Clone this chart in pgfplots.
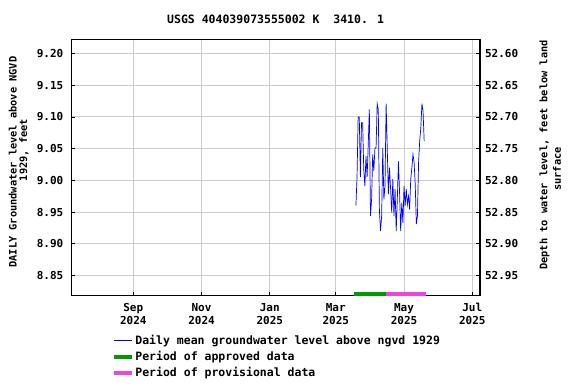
\documentclass[border=0pt]{standalone}
\usepackage{fontspec}
\setmainfont{DejaVu Sans Mono}
\usepackage{pgfplots}
\usepackage{pgfplotstable}
\pgfplotsset{compat=1.18}
\definecolor{grd}{RGB}{204,204,204}
\definecolor{appr}{RGB}{0,153,0}
\definecolor{prov}{RGB}{238,68,221}
\pgfplotstableread{
day val
199 8.960
200 9.006
201 9.100
202 9.100
203 9.005
204 9.091
205 9.091
206 9.017
207 8.991
208 9.038
209 9.005
210 9.056
211 9.112
212 8.944
213 8.970
214 9.041
215 9.015
216 9.051
217 9.051
218 9.121
219 9.112
220 8.952
221 8.920
222 8.944
223 9.051
224 8.970
225 8.991
226 9.121
227 9.051
228 8.978
229 9.020
230 8.986
231 8.949
232 9.002
233 8.944
234 8.986
235 8.920
236 8.970
237 9.030
238 8.981
239 8.920
240 8.965
241 8.933
242 8.991
243 8.960
244 8.986
245 8.962
246 8.975
247 8.954
248 9.002
249 9.020
250 9.041
251 9.028
252 8.994
253 8.931
254 8.944
255 9.028
256 9.062
257 9.083
258 9.121
259 9.109
260 9.062
}\gwdata
\tikzset{
  bigfont/.style={font=\bfseries\fontsize{11.5}{13.4}\selectfont},
  tickfont/.style={font=\bfseries\fontsize{11}{13.4}\selectfont},
  labfontL/.style={font=\bfseries\fontsize{10.3}{10.7}\selectfont},
  labfontR/.style={font=\bfseries\fontsize{10.3}{13.5}\selectfont},
}
\begin{document}
\begin{tikzpicture}[x=1pt,y=1pt]
\useasboundingbox (-71.3,-88.3) rectangle (504.7,295.7);
\begin{axis}[
  at={(0,0)}, anchor=south west,
  scale only axis, width=408.7pt, height=256.4pt,
  xmin=-55.4, xmax=309.9, ymin=8.818, ymax=9.2225,
  xtick={0,61,122,181,242,303},
  xticklabels={{Sep\\2024},{Nov\\2024},{Jan\\2025},{Mar\\2025},{May\\2025},{Jul\\2025}},
  xticklabel style={align=center, tickfont, yshift=-4pt},
  ytick={8.85,8.90,8.95,9.00,9.05,9.10,9.15,9.20},
  ytick pos=left,
  xtick pos=bottom,
  yticklabel style={tickfont, xshift=-4.5pt, /pgf/number format/.cd, fixed, fixed zerofill, precision=2},
  /pgf/number format/assume math mode=true,
  grid=major, major grid style={grd, line width=1pt},
  tick style={black, line width=0.8pt}, major tick length=4pt,
  axis line style={line width=1.2pt},
  title={USGS 404039073555002 K~~3410. 1},
  title style={bigfont, at={(0.5,1)}, anchor=base, yshift=9.5pt},
  ylabel={DAILY Groundwater level above NGVD\\\hspace*{24pt}1929, feet},
  ylabel style={labfontL, align=center, at={(axis description cs:-0.1287,0.521)}, anchor=center, rotate=0},
  legend style={at={(0.0988,-0.1455)}, anchor=north west, draw=none, fill=none, bigfont, row sep=2.6pt, inner sep=0pt, nodes={inner sep=1.5pt}},
  legend cell align=left,
  legend image code/.code={\draw[#1] (0pt,0pt) -- (18pt,0pt);},
  clip=false,
]
\addplot[blue, line width=0.7pt] table[x=day, y=val] {\gwdata};
\addlegendentry{Daily mean groundwater level above ngvd 1929}
\addplot[appr, line width=4pt] coordinates {(197.3,8.8212) (225.9,8.8212)};
\addlegendentry{Period of approved data}
\addplot[prov, line width=4pt] coordinates {(225.9,8.8212) (261.6,8.8212)};
\addlegendentry{Period of provisional data}
\end{axis}
\begin{axis}[
  at={(0,0)}, anchor=south west,
  scale only axis, width=408.7pt, height=256.4pt,
  xmin=-55.4, xmax=309.9, ymin=52.5775, ymax=52.982, y dir=reverse,
  axis x line=none, axis y line*=right,
  ytick={52.60,52.65,52.70,52.75,52.80,52.85,52.90,52.95},
  yticklabel style={tickfont, xshift=1.5pt, /pgf/number format/.cd, fixed, fixed zerofill, precision=2},
  /pgf/number format/assume math mode=true,
  tick style={black, line width=0.8pt}, major tick length=4pt,
  axis line style={line width=1.2pt},
  ylabel={Depth to water level, feet below land\\surface\hspace*{28pt}},
  ylabel style={labfontR, align=center, at={(axis description cs:1.172,0.549)}, anchor=center},
]
\end{axis}
\end{tikzpicture}
\end{document}
